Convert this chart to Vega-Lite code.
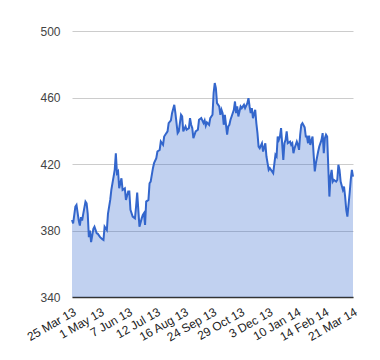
{
  "$schema": "https://vega.github.io/schema/vega-lite/v6.json",
  "width": 281,
  "height": 266,
  "autosize": {"type": "none"},
  "padding": {"left": 72, "top": 31, "right": 27, "bottom": 63},
  "background": "white",
  "config": {
    "view": {"stroke": null},
    "font": "Liberation Sans",
    "axis": {"labelFont": "Liberation Sans", "labelFontSize": 12}
  },
  "data": {
    "values": [
      {"t": 0, "v": 386.3}, {"t": 1, "v": 384.3}, {"t": 3, "v": 394.4}, {"t": 4, "v": 395.4},
      {"t": 6, "v": 386}, {"t": 7, "v": 383}, {"t": 8, "v": 388}, {"t": 9, "v": 386},
      {"t": 10, "v": 390}, {"t": 12, "v": 397.4}, {"t": 13, "v": 396.4}, {"t": 14, "v": 390},
      {"t": 15, "v": 376}, {"t": 16, "v": 380}, {"t": 17, "v": 373}, {"t": 19, "v": 381},
      {"t": 20, "v": 382.3}, {"t": 22, "v": 378.3}, {"t": 23, "v": 378}, {"t": 25, "v": 376},
      {"t": 27, "v": 374.7}, {"t": 28, "v": 374.3}, {"t": 29, "v": 382.3}, {"t": 31, "v": 380.3},
      {"t": 32, "v": 390}, {"t": 34, "v": 398.4}, {"t": 35, "v": 404.4}, {"t": 37, "v": 412.4},
      {"t": 38, "v": 416.5}, {"t": 39, "v": 426.5}, {"t": 40, "v": 414.5}, {"t": 41, "v": 415.5},
      {"t": 42, "v": 405.4}, {"t": 44, "v": 411.4}, {"t": 45, "v": 404.4}, {"t": 47, "v": 405.4},
      {"t": 48, "v": 398.4}, {"t": 50, "v": 403.4}, {"t": 51, "v": 403.4}, {"t": 52, "v": 392.4},
      {"t": 54, "v": 388.4}, {"t": 56, "v": 387.3}, {"t": 57, "v": 394.4}, {"t": 58, "v": 402.8},
      {"t": 59, "v": 392.4}, {"t": 60, "v": 382.3}, {"t": 62, "v": 387.3}, {"t": 63, "v": 389.4},
      {"t": 64, "v": 390.4}, {"t": 65, "v": 383.3}, {"t": 66, "v": 397.4}, {"t": 68, "v": 398.4},
      {"t": 69, "v": 408.4}, {"t": 70, "v": 409.4}, {"t": 72, "v": 417.5}, {"t": 73, "v": 420.5},
      {"t": 75, "v": 423.5}, {"t": 76, "v": 427.5}, {"t": 78, "v": 428.5}, {"t": 79, "v": 433.5},
      {"t": 81, "v": 431.5}, {"t": 82, "v": 436.5}, {"t": 84, "v": 438.6}, {"t": 85, "v": 439.6},
      {"t": 86, "v": 444.6}, {"t": 88, "v": 446.2}, {"t": 89, "v": 450.6}, {"t": 91, "v": 455.6},
      {"t": 92, "v": 450.6}, {"t": 94, "v": 438.6}, {"t": 95, "v": 439.6}, {"t": 97, "v": 449.6},
      {"t": 98, "v": 448.6}, {"t": 99, "v": 439.6}, {"t": 101, "v": 442.6}, {"t": 102, "v": 440.6},
      {"t": 104, "v": 441.6}, {"t": 105, "v": 447.6}, {"t": 106, "v": 443.6}, {"t": 107, "v": 441.6},
      {"t": 108, "v": 435.5}, {"t": 110, "v": 439.6}, {"t": 112, "v": 440.6}, {"t": 113, "v": 446.6},
      {"t": 115, "v": 447.6}, {"t": 117, "v": 444.6}, {"t": 118, "v": 446.2}, {"t": 119, "v": 443},
      {"t": 120, "v": 445}, {"t": 122, "v": 443.6}, {"t": 123, "v": 447.6}, {"t": 125, "v": 449.6},
      {"t": 126, "v": 462.7}, {"t": 127, "v": 468.7}, {"t": 128, "v": 465.7}, {"t": 129, "v": 456.6},
      {"t": 131, "v": 454.6}, {"t": 132, "v": 449.6}, {"t": 133, "v": 452.6}, {"t": 134, "v": 450.6},
      {"t": 135, "v": 443.6}, {"t": 136, "v": 449.6}, {"t": 138, "v": 437.6}, {"t": 139, "v": 442.6},
      {"t": 140, "v": 443.6}, {"t": 141, "v": 446.6}, {"t": 142, "v": 448.6}, {"t": 144, "v": 452.6},
      {"t": 145, "v": 457.6}, {"t": 146, "v": 450.6}, {"t": 147, "v": 454.6}, {"t": 148, "v": 448.6},
      {"t": 150, "v": 454.6}, {"t": 151, "v": 453.6}, {"t": 153, "v": 455.6}, {"t": 154, "v": 453.6},
      {"t": 156, "v": 456.6}, {"t": 157, "v": 459.6}, {"t": 158, "v": 454.6}, {"t": 159, "v": 450.6},
      {"t": 160, "v": 453.6}, {"t": 161, "v": 447.6}, {"t": 163, "v": 452.6}, {"t": 164, "v": 444.6},
      {"t": 165, "v": 438.6}, {"t": 166, "v": 430.5}, {"t": 167, "v": 429.5}, {"t": 169, "v": 432.5},
      {"t": 170, "v": 427.5}, {"t": 172, "v": 432.5}, {"t": 173, "v": 424.5}, {"t": 174, "v": 420.5},
      {"t": 175, "v": 416.5}, {"t": 176, "v": 417.5}, {"t": 178, "v": 415.5}, {"t": 179, "v": 414.5},
      {"t": 181, "v": 425.5}, {"t": 182, "v": 424.5}, {"t": 183, "v": 436.5}, {"t": 184, "v": 434.5},
      {"t": 185, "v": 436.5}, {"t": 186, "v": 441.6}, {"t": 188, "v": 422.5}, {"t": 189, "v": 432.5},
      {"t": 190, "v": 434.5}, {"t": 191, "v": 439.6}, {"t": 192, "v": 432.5}, {"t": 194, "v": 433.5},
      {"t": 195, "v": 431.5}, {"t": 196, "v": 432.5}, {"t": 197, "v": 426.5}, {"t": 198, "v": 429.5},
      {"t": 200, "v": 433.5}, {"t": 201, "v": 431.5}, {"t": 202, "v": 428.5}, {"t": 203, "v": 437.6},
      {"t": 204, "v": 443.6}, {"t": 205, "v": 444.6}, {"t": 207, "v": 442}, {"t": 208, "v": 436.5},
      {"t": 209, "v": 436.5}, {"t": 210, "v": 432.5}, {"t": 211, "v": 437}, {"t": 212, "v": 431.5},
      {"t": 214, "v": 436.5}, {"t": 215, "v": 425.5}, {"t": 216, "v": 415.5}, {"t": 217, "v": 420.5},
      {"t": 219, "v": 427.5}, {"t": 220, "v": 430.5}, {"t": 222, "v": 434.5}, {"t": 223, "v": 438.6},
      {"t": 224, "v": 426.5}, {"t": 225, "v": 435.5}, {"t": 226, "v": 437.6}, {"t": 227, "v": 436.5},
      {"t": 229, "v": 400.4}, {"t": 230, "v": 412.4}, {"t": 231, "v": 416.5}, {"t": 232, "v": 409.4},
      {"t": 233, "v": 410.4}, {"t": 235, "v": 409.4}, {"t": 236, "v": 410.4}, {"t": 237, "v": 419.5},
      {"t": 238, "v": 416.5}, {"t": 239, "v": 409.4}, {"t": 241, "v": 404.4}, {"t": 242, "v": 406.4},
      {"t": 243, "v": 400.4}, {"t": 244, "v": 392.4}, {"t": 245, "v": 388.4}, {"t": 247, "v": 402.4},
      {"t": 248, "v": 410.4}, {"t": 249, "v": 416.5}, {"t": 250, "v": 412.4}
    ]
  },
  "encoding": {
    "x": {
      "field": "t",
      "type": "quantitative",
      "scale": {"domain": [0, 250], "nice": false, "zero": false},
      "axis": {
        "title": null,
        "values": [0, 25, 50, 75, 100, 125, 150, 175, 200, 225, 250],
        "labelExpr": "['25 Mar 13','1 May 13','7 Jun 13','12 Jul 13','16 Aug 13','24 Sep 13','29 Oct 13','3 Dec 13','10 Jan 14','14 Feb 14','21 Mar 14'][round(datum.value / 25)]",
        "labelAngle": -30,
        "labelAlign": "right",
        "labelBaseline": "top",
        "labelPadding": 9,
        "labelColor": "#222222",
        "labelOverlap": false,
        "labelFlush": false,
        "ticks": false,
        "grid": false,
        "domain": true,
        "domainColor": "#333333",
        "domainWidth": 1.5
      }
    },
    "y": {
      "field": "v",
      "type": "quantitative",
      "scale": {"domain": [340, 500], "nice": false, "zero": false},
      "axis": {
        "title": null,
        "values": [340, 380, 420, 460, 500],
        "labelColor": "#444444",
        "labelPadding": 12,
        "ticks": false,
        "domain": false,
        "grid": true,
        "gridColor": "#cccccc",
        "gridWidth": 1
      }
    }
  },
  "layer": [
    {
      "mark": {"type": "area", "color": "#3366cc", "opacity": 0.3},
      "encoding": {"y2": {"datum": 340}}
    },
    {
      "mark": {"type": "line", "color": "#3366cc", "strokeWidth": 2}
    }
  ]
}
